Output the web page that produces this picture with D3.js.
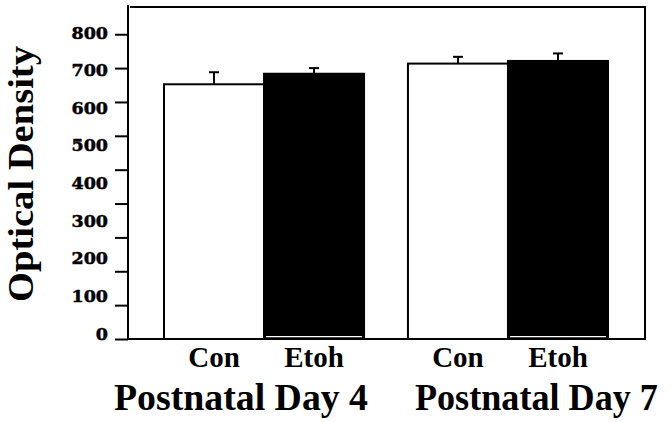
<!DOCTYPE html>
<html>
<head>
<meta charset="utf-8">
<script src="https://cdn.jsdelivr.net/npm/d3@7"></script>
<style>
  html, body { margin: 0; padding: 0; background: #fff; }
  svg { display: block; }
</style>
</head>
<body>
<svg id="chart" width="672" height="422"></svg>
<script>
// ---- data ----
const groups = ["Postnatal Day 4", "Postnatal Day 7"];
const treatments = ["Con", "Etoh"];
const meanCon = [677, 732];
const meanEtoh = [705, 739];
const semCon = [32, 18];
const semEtoh = [15, 20];
const yTickLabels = [0, 100, 200, 300, 400, 500, 600, 700, 800];
// the original figure's tick marks are spaced independently of its labels
const yTickMarks = [0, 90, 180, 270, 360, 450, 540, 630, 720, 810];
const yTitle = "Optical Density";

// ---- layout ----
const W = 672, H = 422;
const plot = { left: 128, right: 645, top: 7, bottom: 339 };
const barsLeft = 164, barsRight = 608;
const groupLabelWidths = [254, 243];
const serif = "'Liberation Serif', 'Times New Roman', serif";

const svg = d3.select("#chart");
svg.append("rect").attr("width", W).attr("height", H).attr("fill", "#fff");

const y = d3.scaleLinear().domain([0, 800]).range([plot.bottom, 38]);
const x0 = d3.scaleBand().domain(groups).range([barsLeft, barsRight]).paddingInner(0.18).paddingOuter(0);
const x1 = d3.scaleBand().domain(treatments).range([0, x0.bandwidth()]).padding(0);

const rows = [];
groups.forEach((g, i) => {
  rows.push({ group: g, trt: "Con", mean: meanCon[i], sem: semCon[i] });
  rows.push({ group: g, trt: "Etoh", mean: meanEtoh[i], sem: semEtoh[i] });
});

// bars
const bars = svg.append("g");
bars.selectAll("rect.bar")
  .data(rows)
  .join("rect")
  .attr("class", "bar")
  .attr("x", d => x0(d.group) + x1(d.trt))
  .attr("y", d => y(d.mean))
  .attr("width", x1.bandwidth())
  .attr("height", d => y(0) - y(d.mean))
  .attr("fill", d => d.trt === "Con" ? "#fff" : "#000")
  .attr("stroke", "#000")
  .attr("stroke-width", 2);

// thin white line at the bottom of the black bars (as in the scan)
bars.selectAll("line.gap")
  .data(rows.filter(d => d.trt === "Etoh"))
  .join("line")
  .attr("class", "gap")
  .attr("x1", d => x0(d.group) + x1(d.trt) + 2)
  .attr("x2", d => x0(d.group) + x1(d.trt) + x1.bandwidth() - 2)
  .attr("y1", y(0) - 2.3).attr("y2", y(0) - 2.3)
  .attr("stroke", "#fff").attr("stroke-width", 1.2);

// error bars
const err = svg.append("g").attr("stroke", "#000").attr("stroke-width", 2);
const cx = d => x0(d.group) + x1(d.trt) + x1.bandwidth() / 2;
err.selectAll("line.v")
  .data(rows).join("line").attr("class", "v")
  .attr("x1", cx).attr("x2", cx)
  .attr("y1", d => y(d.mean)).attr("y2", d => y(d.mean + d.sem));
err.selectAll("line.c")
  .data(rows).join("line").attr("class", "c")
  .attr("x1", d => cx(d) - 5).attr("x2", d => cx(d) + 5)
  .attr("y1", d => y(d.mean + d.sem)).attr("y2", d => y(d.mean + d.sem));

// frame
const frame = svg.append("g").attr("stroke", "#000").attr("stroke-width", 2).attr("fill", "none");
frame.append("line").attr("x1", plot.left).attr("x2", plot.left).attr("y1", plot.top - 2).attr("y2", plot.bottom + 1);
frame.append("line").attr("x1", plot.left + 2).attr("x2", plot.right + 1).attr("y1", plot.top).attr("y2", plot.top);
frame.append("line").attr("x1", plot.right).attr("x2", plot.right).attr("y1", plot.top).attr("y2", plot.bottom);
frame.append("line").attr("x1", plot.left).attr("x2", plot.right + 1).attr("y1", plot.bottom).attr("y2", plot.bottom);

// tick marks
const tickAxis = svg.append("g")
  .attr("transform", `translate(${plot.left},0)`)
  .call(d3.axisLeft(y).tickValues(yTickMarks).tickSize(13).tickFormat(""));
tickAxis.select(".domain").remove();
tickAxis.selectAll(".tick line").attr("stroke", "#000").attr("stroke-width", 2);

// tick labels
const labelAxis = svg.append("g")
  .attr("transform", `translate(${plot.left},0)`)
  .call(d3.axisLeft(y).tickValues(yTickLabels).tickSize(0).tickPadding(20).tickFormat(d3.format("d")));
labelAxis.select(".domain").remove();
labelAxis.selectAll(".tick text")
  .attr("dy", 0)
  .attr("fill", "#000")
  .style("font-family", "'DejaVu Serif', serif")
  .style("font-weight", "900")
  .style("font-size", "17.5px")
  .attr("stroke", "#000")
  .attr("stroke-width", 0.5);

// category labels
svg.append("g").selectAll("text")
  .data(rows).join("text")
  .attr("x", cx)
  .attr("y", plot.bottom + 28)
  .attr("text-anchor", "middle")
  .style("font-family", serif)
  .style("font-weight", "bold")
  .style("font-size", "29px")
  .text(d => d.trt);

// group labels
svg.append("g").selectAll("text")
  .data(groups).join("text")
  .attr("x", (g, i) => i === 0 ? x0(g) + x0.bandwidth() + 4 : x0(g) + 7)
  .attr("y", plot.bottom + 71)
  .attr("text-anchor", (g, i) => i === 0 ? "end" : "start")
  .attr("textLength", (g, i) => groupLabelWidths[i])
  .attr("lengthAdjust", "spacingAndGlyphs")
  .style("font-family", serif)
  .style("font-weight", "bold")
  .style("font-size", "37px")
  .text(g => g);

// y-axis title
svg.append("text")
  .attr("transform", "rotate(-90)")
  .attr("x", -174)
  .attr("y", 32.5)
  .attr("text-anchor", "middle")
  .attr("textLength", 256)
  .attr("lengthAdjust", "spacingAndGlyphs")
  .style("font-family", serif)
  .style("font-weight", "bold")
  .style("font-size", "36px")
  .text(yTitle);
</script>
</body>
</html>
